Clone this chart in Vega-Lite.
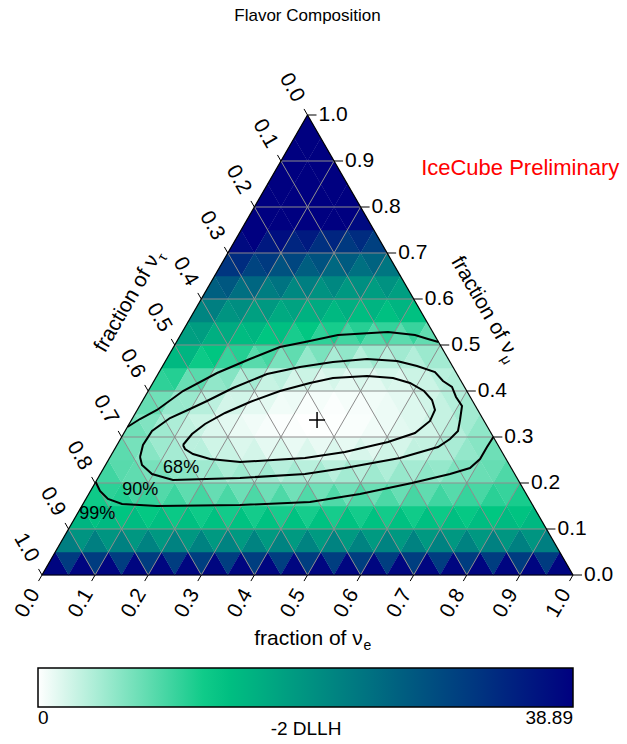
{
"$schema": "https://vega.github.io/schema/vega-lite/v6.json",
"width": 531, "height": 460,
"autosize": {"type": "none"},
"padding": {"left": 42, "top": 115, "right": 54, "bottom": 169},
"background": "white",
"config": {"view": {"stroke": null}, "font": "Liberation Sans"},
"datasets": {
"cells": [
{"x":0.025,"y":0.025,"s":"u","v":38.3},{"x":0.05,"y":0.025,"s":"d","v":31.1},{"x":0.075,"y":0.025,"s":"u","v":38.3},{"x":0.1,"y":0.025,"s":"d","v":31.0},{"x":0.125,"y":0.025,"s":"u","v":38.2},{"x":0.15,"y":0.025,"s":"d","v":30.9},{"x":0.175,"y":0.025,"s":"u","v":38.2},{"x":0.2,"y":0.025,"s":"d","v":30.9},{"x":0.225,"y":0.025,"s":"u","v":38.1},{"x":0.25,"y":0.025,"s":"d","v":30.9},{"x":0.275,"y":0.025,"s":"u","v":38.1},{"x":0.3,"y":0.025,"s":"d","v":30.8},{"x":0.325,"y":0.025,"s":"u","v":38.1},{"x":0.35,"y":0.025,"s":"d","v":30.8},{"x":0.375,"y":0.025,"s":"u","v":38.1},{"x":0.4,"y":0.025,"s":"d","v":30.8},{"x":0.425,"y":0.025,"s":"u","v":38.1},{"x":0.45,"y":0.025,"s":"d","v":30.8},{"x":0.475,"y":0.025,"s":"u","v":38.1},{"x":0.5,"y":0.025,"s":"d","v":30.8},{"x":0.525,"y":0.025,"s":"u","v":38.1},{"x":0.55,"y":0.025,"s":"d","v":30.8},{"x":0.575,"y":0.025,"s":"u","v":38.1},{"x":0.6,"y":0.025,"s":"d","v":30.8},{"x":0.625,"y":0.025,"s":"u","v":38.1},{"x":0.65,"y":0.025,"s":"d","v":30.8},{"x":0.675,"y":0.025,"s":"u","v":38.1},{"x":0.7,"y":0.025,"s":"d","v":30.8},{"x":0.725,"y":0.025,"s":"u","v":38.1},{"x":0.75,"y":0.025,"s":"d","v":30.9},{"x":0.775,"y":0.025,"s":"u","v":38.1},{"x":0.8,"y":0.025,"s":"d","v":30.9},{"x":0.825,"y":0.025,"s":"u","v":38.2},{"x":0.85,"y":0.025,"s":"d","v":30.9},{"x":0.875,"y":0.025,"s":"u","v":38.2},{"x":0.9,"y":0.025,"s":"d","v":31.0},{"x":0.925,"y":0.025,"s":"u","v":38.2},{"x":0.95,"y":0.025,"s":"d","v":31.1},{"x":0.975,"y":0.025,"s":"u","v":38.3},
{"x":0.05,"y":0.075,"s":"u","v":22.4},{"x":0.075,"y":0.075,"s":"d","v":19.5},{"x":0.1,"y":0.075,"s":"u","v":22.2},{"x":0.125,"y":0.075,"s":"d","v":19.3},{"x":0.15,"y":0.075,"s":"u","v":22.0},{"x":0.175,"y":0.075,"s":"d","v":19.1},{"x":0.2,"y":0.075,"s":"u","v":21.9},{"x":0.225,"y":0.075,"s":"d","v":19.0},{"x":0.25,"y":0.075,"s":"u","v":21.8},{"x":0.275,"y":0.075,"s":"d","v":18.9},{"x":0.3,"y":0.075,"s":"u","v":21.8},{"x":0.325,"y":0.075,"s":"d","v":18.8},{"x":0.35,"y":0.075,"s":"u","v":21.7},{"x":0.375,"y":0.075,"s":"d","v":18.7},{"x":0.4,"y":0.075,"s":"u","v":21.7},{"x":0.425,"y":0.075,"s":"d","v":18.7},{"x":0.45,"y":0.075,"s":"u","v":21.7},{"x":0.475,"y":0.075,"s":"d","v":18.7},{"x":0.5,"y":0.075,"s":"u","v":21.7},{"x":0.525,"y":0.075,"s":"d","v":18.7},{"x":0.55,"y":0.075,"s":"u","v":21.7},{"x":0.575,"y":0.075,"s":"d","v":18.7},{"x":0.6,"y":0.075,"s":"u","v":21.7},{"x":0.625,"y":0.075,"s":"d","v":18.7},{"x":0.65,"y":0.075,"s":"u","v":21.7},{"x":0.675,"y":0.075,"s":"d","v":18.8},{"x":0.7,"y":0.075,"s":"u","v":21.8},{"x":0.725,"y":0.075,"s":"d","v":18.8},{"x":0.75,"y":0.075,"s":"u","v":21.8},{"x":0.775,"y":0.075,"s":"d","v":18.9},{"x":0.8,"y":0.075,"s":"u","v":21.9},{"x":0.825,"y":0.075,"s":"d","v":19.0},{"x":0.85,"y":0.075,"s":"u","v":22.0},{"x":0.875,"y":0.075,"s":"d","v":19.2},{"x":0.9,"y":0.075,"s":"u","v":22.1},{"x":0.925,"y":0.075,"s":"d","v":19.4},{"x":0.95,"y":0.075,"s":"u","v":22.3},
{"x":0.075,"y":0.125,"s":"u","v":15.1},{"x":0.1,"y":0.125,"s":"d","v":13.6},{"x":0.125,"y":0.125,"s":"u","v":14.6},{"x":0.15,"y":0.125,"s":"d","v":13.0},{"x":0.175,"y":0.125,"s":"u","v":14.2},{"x":0.2,"y":0.125,"s":"d","v":12.6},{"x":0.225,"y":0.125,"s":"u","v":13.9},{"x":0.25,"y":0.125,"s":"d","v":12.3},{"x":0.275,"y":0.125,"s":"u","v":13.7},{"x":0.3,"y":0.125,"s":"d","v":12.1},{"x":0.325,"y":0.125,"s":"u","v":13.6},{"x":0.35,"y":0.125,"s":"d","v":11.9},{"x":0.375,"y":0.125,"s":"u","v":13.5},{"x":0.4,"y":0.125,"s":"d","v":11.8},{"x":0.425,"y":0.125,"s":"u","v":13.4},{"x":0.45,"y":0.125,"s":"d","v":11.7},{"x":0.475,"y":0.125,"s":"u","v":13.4},{"x":0.5,"y":0.125,"s":"d","v":11.7},{"x":0.525,"y":0.125,"s":"u","v":13.4},{"x":0.55,"y":0.125,"s":"d","v":11.7},{"x":0.575,"y":0.125,"s":"u","v":13.4},{"x":0.6,"y":0.125,"s":"d","v":11.8},{"x":0.625,"y":0.125,"s":"u","v":13.5},{"x":0.65,"y":0.125,"s":"d","v":11.9},{"x":0.675,"y":0.125,"s":"u","v":13.6},{"x":0.7,"y":0.125,"s":"d","v":12.0},{"x":0.725,"y":0.125,"s":"u","v":13.7},{"x":0.75,"y":0.125,"s":"d","v":12.2},{"x":0.775,"y":0.125,"s":"u","v":13.9},{"x":0.8,"y":0.125,"s":"d","v":12.5},{"x":0.825,"y":0.125,"s":"u","v":14.1},{"x":0.85,"y":0.125,"s":"d","v":12.8},{"x":0.875,"y":0.125,"s":"u","v":14.4},{"x":0.9,"y":0.125,"s":"d","v":13.3},{"x":0.925,"y":0.125,"s":"u","v":14.8},
{"x":0.1,"y":0.175,"s":"u","v":12.1},{"x":0.125,"y":0.175,"s":"d","v":10.6},{"x":0.15,"y":0.175,"s":"u","v":11.1},{"x":0.175,"y":0.175,"s":"d","v":9.5},{"x":0.2,"y":0.175,"s":"u","v":10.3},{"x":0.225,"y":0.175,"s":"d","v":8.7},{"x":0.25,"y":0.175,"s":"u","v":9.8},{"x":0.275,"y":0.175,"s":"d","v":8.1},{"x":0.3,"y":0.175,"s":"u","v":9.4},{"x":0.325,"y":0.175,"s":"d","v":7.7},{"x":0.35,"y":0.175,"s":"u","v":9.1},{"x":0.375,"y":0.175,"s":"d","v":7.4},{"x":0.4,"y":0.175,"s":"u","v":9.0},{"x":0.425,"y":0.175,"s":"d","v":7.3},{"x":0.45,"y":0.175,"s":"u","v":8.9},{"x":0.475,"y":0.175,"s":"d","v":7.2},{"x":0.5,"y":0.175,"s":"u","v":8.8},{"x":0.525,"y":0.175,"s":"d","v":7.2},{"x":0.55,"y":0.175,"s":"u","v":8.8},{"x":0.575,"y":0.175,"s":"d","v":7.2},{"x":0.6,"y":0.175,"s":"u","v":8.9},{"x":0.625,"y":0.175,"s":"d","v":7.4},{"x":0.65,"y":0.175,"s":"u","v":9.0},{"x":0.675,"y":0.175,"s":"d","v":7.6},{"x":0.7,"y":0.175,"s":"u","v":9.3},{"x":0.725,"y":0.175,"s":"d","v":8.0},{"x":0.75,"y":0.175,"s":"u","v":9.6},{"x":0.775,"y":0.175,"s":"d","v":8.5},{"x":0.8,"y":0.175,"s":"u","v":10.1},{"x":0.825,"y":0.175,"s":"d","v":9.2},{"x":0.85,"y":0.175,"s":"u","v":10.7},{"x":0.875,"y":0.175,"s":"d","v":10.1},{"x":0.9,"y":0.175,"s":"u","v":11.6},
{"x":0.125,"y":0.225,"s":"u","v":9.6},{"x":0.15,"y":0.225,"s":"d","v":8.4},{"x":0.175,"y":0.225,"s":"u","v":8.0},{"x":0.2,"y":0.225,"s":"d","v":6.8},{"x":0.225,"y":0.225,"s":"u","v":6.8},{"x":0.25,"y":0.225,"s":"d","v":5.6},{"x":0.275,"y":0.225,"s":"u","v":5.9},{"x":0.3,"y":0.225,"s":"d","v":4.8},{"x":0.325,"y":0.225,"s":"u","v":5.3},{"x":0.35,"y":0.225,"s":"d","v":4.2},{"x":0.375,"y":0.225,"s":"u","v":4.9},{"x":0.4,"y":0.225,"s":"d","v":3.8},{"x":0.425,"y":0.225,"s":"u","v":4.7},{"x":0.45,"y":0.225,"s":"d","v":3.6},{"x":0.475,"y":0.225,"s":"u","v":4.5},{"x":0.5,"y":0.225,"s":"d","v":3.5},{"x":0.525,"y":0.225,"s":"u","v":4.5},{"x":0.55,"y":0.225,"s":"d","v":3.5},{"x":0.575,"y":0.225,"s":"u","v":4.6},{"x":0.6,"y":0.225,"s":"d","v":3.7},{"x":0.625,"y":0.225,"s":"u","v":4.8},{"x":0.65,"y":0.225,"s":"d","v":4.0},{"x":0.675,"y":0.225,"s":"u","v":5.2},{"x":0.7,"y":0.225,"s":"d","v":4.5},{"x":0.725,"y":0.225,"s":"u","v":5.7},{"x":0.75,"y":0.225,"s":"d","v":5.3},{"x":0.775,"y":0.225,"s":"u","v":6.5},{"x":0.8,"y":0.225,"s":"d","v":6.3},{"x":0.825,"y":0.225,"s":"u","v":7.5},{"x":0.85,"y":0.225,"s":"d","v":7.7},{"x":0.875,"y":0.225,"s":"u","v":8.9},
{"x":0.15,"y":0.275,"s":"u","v":8.2},{"x":0.175,"y":0.275,"s":"d","v":6.9},{"x":0.2,"y":0.275,"s":"u","v":6.0},{"x":0.225,"y":0.275,"s":"d","v":4.9},{"x":0.25,"y":0.275,"s":"u","v":4.5},{"x":0.275,"y":0.275,"s":"d","v":3.4},{"x":0.3,"y":0.275,"s":"u","v":3.5},{"x":0.325,"y":0.275,"s":"d","v":2.4},{"x":0.35,"y":0.275,"s":"u","v":2.7},{"x":0.375,"y":0.275,"s":"d","v":1.8},{"x":0.4,"y":0.275,"s":"u","v":2.2},{"x":0.425,"y":0.275,"s":"d","v":1.3},{"x":0.45,"y":0.275,"s":"u","v":1.9},{"x":0.475,"y":0.275,"s":"d","v":1.1},{"x":0.5,"y":0.275,"s":"u","v":1.8},{"x":0.525,"y":0.275,"s":"d","v":1.1},{"x":0.55,"y":0.275,"s":"u","v":1.8},{"x":0.575,"y":0.275,"s":"d","v":1.2},{"x":0.6,"y":0.275,"s":"u","v":2.0},{"x":0.625,"y":0.275,"s":"d","v":1.5},{"x":0.65,"y":0.275,"s":"u","v":2.4},{"x":0.675,"y":0.275,"s":"d","v":2.1},{"x":0.7,"y":0.275,"s":"u","v":3.1},{"x":0.725,"y":0.275,"s":"d","v":3.0},{"x":0.75,"y":0.275,"s":"u","v":4.1},{"x":0.775,"y":0.275,"s":"d","v":4.3},{"x":0.8,"y":0.275,"s":"u","v":5.4},{"x":0.825,"y":0.275,"s":"d","v":6.0},{"x":0.85,"y":0.275,"s":"u","v":7.3},
{"x":0.175,"y":0.325,"s":"u","v":7.2},{"x":0.2,"y":0.325,"s":"d","v":6.3},{"x":0.225,"y":0.325,"s":"u","v":4.8},{"x":0.25,"y":0.325,"s":"d","v":4.1},{"x":0.275,"y":0.325,"s":"u","v":3.1},{"x":0.3,"y":0.325,"s":"d","v":2.6},{"x":0.325,"y":0.325,"s":"u","v":1.8},{"x":0.35,"y":0.325,"s":"d","v":1.4},{"x":0.375,"y":0.325,"s":"u","v":1.0},{"x":0.4,"y":0.325,"s":"d","v":0.7},{"x":0.425,"y":0.325,"s":"u","v":0.4},{"x":0.45,"y":0.325,"s":"d","v":0.2},{"x":0.475,"y":0.325,"s":"u","v":0.2},{"x":0.5,"y":0.325,"s":"d","v":0.0},{"x":0.525,"y":0.325,"s":"u","v":0.1},{"x":0.55,"y":0.325,"s":"d","v":0.1},{"x":0.575,"y":0.325,"s":"u","v":0.3},{"x":0.6,"y":0.325,"s":"d","v":0.3},{"x":0.625,"y":0.325,"s":"u","v":0.7},{"x":0.65,"y":0.325,"s":"d","v":0.9},{"x":0.675,"y":0.325,"s":"u","v":1.4},{"x":0.7,"y":0.325,"s":"d","v":1.7},{"x":0.725,"y":0.325,"s":"u","v":2.3},{"x":0.75,"y":0.325,"s":"d","v":2.9},{"x":0.775,"y":0.325,"s":"u","v":3.7},{"x":0.8,"y":0.325,"s":"d","v":4.6},{"x":0.825,"y":0.325,"s":"u","v":5.6},
{"x":0.2,"y":0.375,"s":"u","v":7.7},{"x":0.225,"y":0.375,"s":"d","v":7.2},{"x":0.25,"y":0.375,"s":"u","v":5.2},{"x":0.275,"y":0.375,"s":"d","v":5.1},{"x":0.3,"y":0.375,"s":"u","v":3.6},{"x":0.325,"y":0.375,"s":"d","v":3.4},{"x":0.35,"y":0.375,"s":"u","v":2.2},{"x":0.375,"y":0.375,"s":"d","v":2.3},{"x":0.4,"y":0.375,"s":"u","v":1.3},{"x":0.425,"y":0.375,"s":"d","v":1.4},{"x":0.45,"y":0.375,"s":"u","v":0.7},{"x":0.475,"y":0.375,"s":"d","v":0.9},{"x":0.5,"y":0.375,"s":"u","v":0.3},{"x":0.525,"y":0.375,"s":"d","v":0.5},{"x":0.55,"y":0.375,"s":"u","v":0.2},{"x":0.575,"y":0.375,"s":"d","v":0.5},{"x":0.6,"y":0.375,"s":"u","v":0.4},{"x":0.625,"y":0.375,"s":"d","v":0.7},{"x":0.65,"y":0.375,"s":"u","v":0.9},{"x":0.675,"y":0.375,"s":"d","v":1.3},{"x":0.7,"y":0.375,"s":"u","v":1.7},{"x":0.725,"y":0.375,"s":"d","v":2.3},{"x":0.75,"y":0.375,"s":"u","v":2.9},{"x":0.775,"y":0.375,"s":"d","v":3.7},{"x":0.8,"y":0.375,"s":"u","v":4.6},
{"x":0.225,"y":0.425,"s":"u","v":10.5},{"x":0.25,"y":0.425,"s":"d","v":11.0},{"x":0.275,"y":0.425,"s":"u","v":7.6},{"x":0.3,"y":0.425,"s":"d","v":8.4},{"x":0.325,"y":0.425,"s":"u","v":5.5},{"x":0.35,"y":0.425,"s":"d","v":6.1},{"x":0.375,"y":0.425,"s":"u","v":3.9},{"x":0.4,"y":0.425,"s":"d","v":4.6},{"x":0.425,"y":0.425,"s":"u","v":2.8},{"x":0.45,"y":0.425,"s":"d","v":3.3},{"x":0.475,"y":0.425,"s":"u","v":2.1},{"x":0.5,"y":0.425,"s":"d","v":2.6},{"x":0.525,"y":0.425,"s":"u","v":1.6},{"x":0.55,"y":0.425,"s":"d","v":2.1},{"x":0.575,"y":0.425,"s":"u","v":1.4},{"x":0.6,"y":0.425,"s":"d","v":1.9},{"x":0.625,"y":0.425,"s":"u","v":1.4},{"x":0.65,"y":0.425,"s":"d","v":2.1},{"x":0.675,"y":0.425,"s":"u","v":1.8},{"x":0.7,"y":0.425,"s":"d","v":2.6},{"x":0.725,"y":0.425,"s":"u","v":2.6},{"x":0.75,"y":0.425,"s":"d","v":3.5},{"x":0.775,"y":0.425,"s":"u","v":3.9},
{"x":0.25,"y":0.475,"s":"u","v":14.6},{"x":0.275,"y":0.475,"s":"d","v":15.1},{"x":0.3,"y":0.475,"s":"u","v":12.2},{"x":0.325,"y":0.475,"s":"d","v":12.9},{"x":0.35,"y":0.475,"s":"u","v":10.1},{"x":0.375,"y":0.475,"s":"d","v":11.0},{"x":0.4,"y":0.475,"s":"u","v":8.4},{"x":0.425,"y":0.475,"s":"d","v":9.4},{"x":0.45,"y":0.475,"s":"u","v":6.7},{"x":0.475,"y":0.475,"s":"d","v":8.0},{"x":0.5,"y":0.475,"s":"u","v":5.3},{"x":0.525,"y":0.475,"s":"d","v":6.7},{"x":0.55,"y":0.475,"s":"u","v":4.3},{"x":0.575,"y":0.475,"s":"d","v":5.5},{"x":0.6,"y":0.475,"s":"u","v":3.7},{"x":0.625,"y":0.475,"s":"d","v":4.9},{"x":0.65,"y":0.475,"s":"u","v":3.5},{"x":0.675,"y":0.475,"s":"d","v":4.7},{"x":0.7,"y":0.475,"s":"u","v":3.8},{"x":0.725,"y":0.475,"s":"d","v":5.0},{"x":0.75,"y":0.475,"s":"u","v":4.6},
{"x":0.275,"y":0.525,"s":"u","v":18.0},{"x":0.3,"y":0.525,"s":"d","v":18.3},{"x":0.325,"y":0.525,"s":"u","v":16.0},{"x":0.35,"y":0.525,"s":"d","v":16.5},{"x":0.375,"y":0.525,"s":"u","v":14.3},{"x":0.4,"y":0.525,"s":"d","v":15.0},{"x":0.425,"y":0.525,"s":"u","v":12.9},{"x":0.45,"y":0.525,"s":"d","v":13.8},{"x":0.475,"y":0.525,"s":"u","v":11.6},{"x":0.5,"y":0.525,"s":"d","v":12.7},{"x":0.525,"y":0.525,"s":"u","v":10.5},{"x":0.55,"y":0.525,"s":"d","v":11.7},{"x":0.575,"y":0.525,"s":"u","v":9.5},{"x":0.6,"y":0.525,"s":"d","v":10.9},{"x":0.625,"y":0.525,"s":"u","v":8.8},{"x":0.65,"y":0.525,"s":"d","v":10.3},{"x":0.675,"y":0.525,"s":"u","v":8.2},{"x":0.7,"y":0.525,"s":"d","v":10.0},{"x":0.725,"y":0.525,"s":"u","v":7.9},
{"x":0.3,"y":0.575,"s":"u","v":21.5},{"x":0.325,"y":0.575,"s":"d","v":22.2},{"x":0.35,"y":0.575,"s":"u","v":19.5},{"x":0.375,"y":0.575,"s":"d","v":20.3},{"x":0.4,"y":0.575,"s":"u","v":17.9},{"x":0.425,"y":0.575,"s":"d","v":18.8},{"x":0.45,"y":0.575,"s":"u","v":16.6},{"x":0.475,"y":0.575,"s":"d","v":17.5},{"x":0.5,"y":0.575,"s":"u","v":15.5},{"x":0.525,"y":0.575,"s":"d","v":16.5},{"x":0.55,"y":0.575,"s":"u","v":14.7},{"x":0.575,"y":0.575,"s":"d","v":15.8},{"x":0.6,"y":0.575,"s":"u","v":14.1},{"x":0.625,"y":0.575,"s":"d","v":15.3},{"x":0.65,"y":0.575,"s":"u","v":13.7},{"x":0.675,"y":0.575,"s":"d","v":15.1},{"x":0.7,"y":0.575,"s":"u","v":13.6},
{"x":0.325,"y":0.625,"s":"u","v":26.4},{"x":0.35,"y":0.625,"s":"d","v":27.5},{"x":0.375,"y":0.625,"s":"u","v":24.3},{"x":0.4,"y":0.625,"s":"d","v":25.5},{"x":0.425,"y":0.625,"s":"u","v":22.5},{"x":0.45,"y":0.625,"s":"d","v":23.8},{"x":0.475,"y":0.625,"s":"u","v":21.0},{"x":0.5,"y":0.625,"s":"d","v":22.3},{"x":0.525,"y":0.625,"s":"u","v":19.8},{"x":0.55,"y":0.625,"s":"d","v":21.1},{"x":0.575,"y":0.625,"s":"u","v":18.9},{"x":0.6,"y":0.625,"s":"d","v":20.2},{"x":0.625,"y":0.625,"s":"u","v":18.3},{"x":0.65,"y":0.625,"s":"d","v":19.7},{"x":0.675,"y":0.625,"s":"u","v":18.0},
{"x":0.35,"y":0.675,"s":"u","v":32.0},{"x":0.375,"y":0.675,"s":"d","v":33.1},{"x":0.4,"y":0.675,"s":"u","v":30.0},{"x":0.425,"y":0.675,"s":"d","v":31.3},{"x":0.45,"y":0.675,"s":"u","v":28.2},{"x":0.475,"y":0.675,"s":"d","v":29.7},{"x":0.5,"y":0.675,"s":"u","v":26.6},{"x":0.525,"y":0.675,"s":"d","v":28.2},{"x":0.55,"y":0.675,"s":"u","v":25.3},{"x":0.575,"y":0.675,"s":"d","v":26.9},{"x":0.6,"y":0.675,"s":"u","v":24.2},{"x":0.625,"y":0.675,"s":"d","v":25.9},{"x":0.65,"y":0.675,"s":"u","v":23.4},
{"x":0.375,"y":0.725,"s":"u","v":37.6},{"x":0.4,"y":0.725,"s":"d","v":38.89},{"x":0.425,"y":0.725,"s":"u","v":35.7},{"x":0.45,"y":0.725,"s":"d","v":37.1},{"x":0.475,"y":0.725,"s":"u","v":34.0},{"x":0.5,"y":0.725,"s":"d","v":35.5},{"x":0.525,"y":0.725,"s":"u","v":32.6},{"x":0.55,"y":0.725,"s":"d","v":34.1},{"x":0.575,"y":0.725,"s":"u","v":31.4},{"x":0.6,"y":0.725,"s":"d","v":33.1},{"x":0.625,"y":0.725,"s":"u","v":30.5},
{"x":0.4,"y":0.775,"s":"u","v":38.89},{"x":0.425,"y":0.775,"s":"d","v":38.89},{"x":0.45,"y":0.775,"s":"u","v":38.89},{"x":0.475,"y":0.775,"s":"d","v":38.89},{"x":0.5,"y":0.775,"s":"u","v":38.89},{"x":0.525,"y":0.775,"s":"d","v":38.89},{"x":0.55,"y":0.775,"s":"u","v":38.89},{"x":0.575,"y":0.775,"s":"d","v":38.89},{"x":0.6,"y":0.775,"s":"u","v":37.6},
{"x":0.425,"y":0.825,"s":"u","v":38.89},{"x":0.45,"y":0.825,"s":"d","v":38.89},{"x":0.475,"y":0.825,"s":"u","v":38.89},{"x":0.5,"y":0.825,"s":"d","v":38.89},{"x":0.525,"y":0.825,"s":"u","v":38.89},{"x":0.55,"y":0.825,"s":"d","v":38.89},{"x":0.575,"y":0.825,"s":"u","v":38.89},
{"x":0.45,"y":0.875,"s":"u","v":38.89},{"x":0.475,"y":0.875,"s":"d","v":38.89},{"x":0.5,"y":0.875,"s":"u","v":38.89},{"x":0.525,"y":0.875,"s":"d","v":38.89},{"x":0.55,"y":0.875,"s":"u","v":38.89},
{"x":0.475,"y":0.925,"s":"u","v":38.89},{"x":0.5,"y":0.925,"s":"d","v":38.89},{"x":0.525,"y":0.925,"s":"u","v":38.89},
{"x":0.5,"y":0.975,"s":"u","v":38.89}
],
"grid": [
{"x":0.05,"y":0.1,"x2":0.95,"y2":0.1},{"x":0.1,"y":0.2,"x2":0.9,"y2":0.2},{"x":0.15,"y":0.3,"x2":0.85,"y2":0.3},{"x":0.2,"y":0.4,"x2":0.8,"y2":0.4},{"x":0.25,"y":0.5,"x2":0.75,"y2":0.5},{"x":0.3,"y":0.6,"x2":0.7,"y2":0.6},{"x":0.35,"y":0.7,"x2":0.65,"y2":0.7},{"x":0.4,"y":0.8,"x2":0.6,"y2":0.8},{"x":0.45,"y":0.9,"x2":0.55,"y2":0.9},
{"x":0.1,"y":0,"x2":0.55,"y2":0.9},{"x":0.2,"y":0,"x2":0.6,"y2":0.8},{"x":0.3,"y":0,"x2":0.65,"y2":0.7},{"x":0.4,"y":0,"x2":0.7,"y2":0.6},{"x":0.5,"y":0,"x2":0.75,"y2":0.5},{"x":0.6,"y":0,"x2":0.8,"y2":0.4},{"x":0.7,"y":0,"x2":0.85,"y2":0.3},{"x":0.8,"y":0,"x2":0.9,"y2":0.2},{"x":0.9,"y":0,"x2":0.95,"y2":0.1},
{"x":0.9,"y":0,"x2":0.45,"y2":0.9},{"x":0.8,"y":0,"x2":0.4,"y2":0.8},{"x":0.7,"y":0,"x2":0.35,"y2":0.7},{"x":0.6,"y":0,"x2":0.3,"y2":0.6},{"x":0.5,"y":0,"x2":0.25,"y2":0.5},{"x":0.4,"y":0,"x2":0.2,"y2":0.4},{"x":0.3,"y":0,"x2":0.15,"y2":0.3},{"x":0.2,"y":0,"x2":0.1,"y2":0.2},{"x":0.1,"y":0,"x2":0.05,"y2":0.1}
],
"edges": [
{"x":0,"y":0,"x2":1,"y2":0},{"x":0,"y":0,"x2":0.5,"y2":1},{"x":1,"y":0,"x2":0.5,"y2":1}
],
"bottom": [
{"x":0,"y":0,"t":"0.0"},{"x":0.1,"y":0,"t":"0.1"},{"x":0.2,"y":0,"t":"0.2"},{"x":0.3,"y":0,"t":"0.3"},{"x":0.4,"y":0,"t":"0.4"},{"x":0.5,"y":0,"t":"0.5"},{"x":0.6,"y":0,"t":"0.6"},{"x":0.7,"y":0,"t":"0.7"},{"x":0.8,"y":0,"t":"0.8"},{"x":0.9,"y":0,"t":"0.9"},{"x":1,"y":0,"t":"1.0"}
],
"right": [
{"x":1,"y":0,"t":"0.0"},{"x":0.95,"y":0.1,"t":"0.1"},{"x":0.9,"y":0.2,"t":"0.2"},{"x":0.85,"y":0.3,"t":"0.3"},{"x":0.8,"y":0.4,"t":"0.4"},{"x":0.75,"y":0.5,"t":"0.5"},{"x":0.7,"y":0.6,"t":"0.6"},{"x":0.65,"y":0.7,"t":"0.7"},{"x":0.6,"y":0.8,"t":"0.8"},{"x":0.55,"y":0.9,"t":"0.9"},{"x":0.5,"y":1,"t":"1.0"}
],
"left": [
{"x":0.5,"y":1,"t":"0.0"},{"x":0.45,"y":0.9,"t":"0.1"},{"x":0.4,"y":0.8,"t":"0.2"},{"x":0.35,"y":0.7,"t":"0.3"},{"x":0.3,"y":0.6,"t":"0.4"},{"x":0.25,"y":0.5,"t":"0.5"},{"x":0.2,"y":0.4,"t":"0.6"},{"x":0.15,"y":0.3,"t":"0.7"},{"x":0.1,"y":0.2,"t":"0.8"},{"x":0.05,"y":0.1,"t":"0.9"},{"x":0,"y":0,"t":"1.0"}
],
"contours": [
{"c":"68","i":1,"x":0.2655,"y":0.2826},{"c":"68","i":2,"x":0.2825,"y":0.3065},{"c":"68","i":3,"x":0.307,"y":0.3283},{"c":"68","i":4,"x":0.3446,"y":0.3522},{"c":"68","i":5,"x":0.3917,"y":0.3761},{"c":"68","i":6,"x":0.4482,"y":0.4},{"c":"68","i":7,"x":0.5047,"y":0.4174},{"c":"68","i":8,"x":0.548,"y":0.4283},{"c":"68","i":9,"x":0.6121,"y":0.4326},{"c":"68","i":10,"x":0.661,"y":0.4283},{"c":"68","i":11,"x":0.693,"y":0.4174},{"c":"68","i":12,"x":0.7194,"y":0.4},{"c":"68","i":13,"x":0.7345,"y":0.3804},{"c":"68","i":14,"x":0.7401,"y":0.3587},{"c":"68","i":15,"x":0.7307,"y":0.3348},{"c":"68","i":16,"x":0.7024,"y":0.3087},{"c":"68","i":17,"x":0.6516,"y":0.2891},{"c":"68","i":18,"x":0.5706,"y":0.2674},{"c":"68","i":19,"x":0.4953,"y":0.2543},{"c":"68","i":20,"x":0.435,"y":0.25},{"c":"68","i":21,"x":0.3729,"y":0.2457},{"c":"68","i":22,"x":0.3164,"y":0.2522},{"c":"68","i":23,"x":0.2844,"y":0.263},{"c":"68","i":24,"x":0.2693,"y":0.2739},{"c":"68","i":25,"x":0.2655,"y":0.2826},
{"c":"90","i":1,"x":0.1846,"y":0.2565},{"c":"90","i":2,"x":0.1902,"y":0.2826},{"c":"90","i":3,"x":0.2072,"y":0.313},{"c":"90","i":4,"x":0.2411,"y":0.3413},{"c":"90","i":5,"x":0.2787,"y":0.3609},{"c":"90","i":6,"x":0.3107,"y":0.3783},{"c":"90","i":7,"x":0.3597,"y":0.4065},{"c":"90","i":8,"x":0.4237,"y":0.437},{"c":"90","i":9,"x":0.4859,"y":0.4522},{"c":"90","i":10,"x":0.548,"y":0.463},{"c":"90","i":11,"x":0.6121,"y":0.4696},{"c":"90","i":12,"x":0.6685,"y":0.4652},{"c":"90","i":13,"x":0.7062,"y":0.4543},{"c":"90","i":14,"x":0.7401,"y":0.4413},{"c":"90","i":15,"x":0.7552,"y":0.4217},{"c":"90","i":16,"x":0.7721,"y":0.4087},{"c":"90","i":17,"x":0.7797,"y":0.387},{"c":"90","i":18,"x":0.791,"y":0.3674},{"c":"90","i":19,"x":0.7872,"y":0.337},{"c":"90","i":20,"x":0.7834,"y":0.313},{"c":"90","i":21,"x":0.7684,"y":0.2957},{"c":"90","i":22,"x":0.7458,"y":0.2783},{"c":"90","i":23,"x":0.6742,"y":0.2543},{"c":"90","i":24,"x":0.5706,"y":0.2326},{"c":"90","i":25,"x":0.4953,"y":0.2196},{"c":"90","i":26,"x":0.3729,"y":0.2109},{"c":"90","i":27,"x":0.2467,"y":0.2065},{"c":"90","i":28,"x":0.2072,"y":0.2196},{"c":"90","i":29,"x":0.1883,"y":0.2391},{"c":"90","i":30,"x":0.1846,"y":0.2565},
{"c":"99u","i":1,"x":0.1608,"y":0.3217},{"c":"99u","i":2,"x":0.1846,"y":0.3391},{"c":"99u","i":3,"x":0.2166,"y":0.3587},{"c":"99u","i":4,"x":0.2655,"y":0.4},{"c":"99u","i":5,"x":0.3296,"y":0.4391},{"c":"99u","i":6,"x":0.3917,"y":0.4696},{"c":"99u","i":7,"x":0.4482,"y":0.4957},{"c":"99u","i":8,"x":0.4953,"y":0.5065},{"c":"99u","i":9,"x":0.5574,"y":0.5217},{"c":"99u","i":10,"x":0.6516,"y":0.5283},{"c":"99u","i":11,"x":0.7024,"y":0.5217},{"c":"99u","i":12,"x":0.7269,"y":0.513},{"c":"99u","i":13,"x":0.7467,"y":0.5065},
{"c":"99l","i":1,"x":0.1011,"y":0.2022},{"c":"99l","i":2,"x":0.1092,"y":0.1826},{"c":"99l","i":3,"x":0.1243,"y":0.1652},{"c":"99l","i":4,"x":0.1507,"y":0.1543},{"c":"99l","i":5,"x":0.2166,"y":0.15},{"c":"99l","i":6,"x":0.3729,"y":0.1522},{"c":"99l","i":7,"x":0.5047,"y":0.1587},{"c":"99l","i":8,"x":0.5989,"y":0.1761},{"c":"99l","i":9,"x":0.6968,"y":0.2},{"c":"99l","i":10,"x":0.7684,"y":0.2196},{"c":"99l","i":11,"x":0.806,"y":0.2326},{"c":"99l","i":12,"x":0.8249,"y":0.2522},{"c":"99l","i":13,"x":0.838,"y":0.2783},{"c":"99l","i":14,"x":0.85,"y":0.3}
],
"clabels": [
{"x":0.262,"y":0.233,"t":"68%"},{"x":0.185,"y":0.185,"t":"90%"},{"x":0.104,"y":0.133,"t":"99%"}
]
},
"encoding": {
"x": {"field": "x", "type": "quantitative", "scale": {"domain": [0, 1]}, "axis": null},
"y": {"field": "y", "type": "quantitative", "scale": {"domain": [0, 1]}, "axis": null}
},
"layer": [
{"data": {"name": "cells"},
 "mark": {"type": "point", "filled": true, "opacity": 1, "size": 735, "strokeWidth": 0},
 "encoding": {
  "shape": {"field": "s", "type": "nominal", "scale": {"domain": ["u", "d"], "range": ["triangle-up", "triangle-down"]}, "legend": null},
  "color": {"field": "v", "type": "quantitative",
    "scale": {"domain": [0, 12.8, 38.89], "range": ["#ffffff", "#00c781", "#000080"], "interpolate": "rgb"},
    "legend": {"type": "gradient", "title": "-2 DLLH", "orient": "none", "legendX": -4, "legendY": 553, "direction": "horizontal",
      "gradientLength": 535, "gradientThickness": 39, "gradientStrokeColor": "black", "gradientStrokeWidth": 1.5,
      "values": [0, 38.89], "format": ".4~g", "labelFontSize": 19, "labelFont": "Liberation Sans", "labelColor": "black", "labelOffset": 2, "labelOverlap": false,
      "titleOrient": "bottom", "titleAnchor": "middle", "titleFontSize": 19, "titleFont": "Liberation Sans", "titleFontWeight": "normal", "titleColor": "black", "titlePadding": -8, "padding": 0}}
 }},
{"data": {"name": "grid"},
 "mark": {"type": "rule", "color": "#8c8c8c", "strokeWidth": 1},
 "encoding": {"x2": {"field": "x2"}, "y2": {"field": "y2"}}},
{"data": {"name": "contours"},
 "mark": {"type": "line", "color": "black", "strokeWidth": 2},
 "encoding": {"detail": {"field": "c", "type": "nominal"}, "order": {"field": "i", "type": "quantitative"}}},
{"data": {"name": "edges"},
 "mark": {"type": "rule", "color": "black", "strokeWidth": 1.2},
 "encoding": {"x2": {"field": "x2"}, "y2": {"field": "y2"}}},
{"data": {"name": "bottom"},
 "mark": {"type": "point", "shape": "M0,0L-0.5,0.866", "size": 196, "filled": false, "stroke": "black", "strokeWidth": 1, "opacity": 1},
 "encoding": {}},
{"data": {"name": "right"},
 "mark": {"type": "point", "shape": "M0,0L1,0", "size": 324, "filled": false, "stroke": "black", "strokeWidth": 1, "opacity": 1},
 "encoding": {}},
{"data": {"name": "left"},
 "mark": {"type": "point", "shape": "M0,0L-0.5,-0.866", "size": 196, "filled": false, "stroke": "black", "strokeWidth": 1, "opacity": 1},
 "encoding": {}},
{"data": {"name": "bottom"},
 "mark": {"type": "text", "angle": 300, "align": "right", "baseline": "middle", "dx": -17, "dy": 2, "fontSize": 21, "font": "Liberation Sans", "color": "black"},
 "encoding": {"text": {"field": "t"}}},
{"data": {"name": "right"},
 "mark": {"type": "text", "align": "left", "baseline": "middle", "dx": 11, "fontSize": 21, "font": "Liberation Sans", "color": "black"},
 "encoding": {"text": {"field": "t"}}},
{"data": {"name": "left"},
 "mark": {"type": "text", "angle": 60, "align": "right", "baseline": "middle", "dx": -17, "fontSize": 21, "font": "Liberation Sans", "color": "black"},
 "encoding": {"text": {"field": "t"}}},
{"data": {"values": [{"x": 0.5, "y": 0, "t": "fraction of ν", "s": "e"}]},
 "mark": {"type": "text", "align": "center", "baseline": "alphabetic", "dx": 1, "dy": 70, "fontSize": 21, "font": "Liberation Sans", "color": "black"},
 "encoding": {"text": {"field": "t"}}},
{"data": {"values": [{"x": 0.5, "y": 0, "t": "fraction of ν", "s": "e"}]},
 "mark": {"type": "text", "align": "left", "baseline": "alphabetic", "dx": 56, "dy": 75, "fontSize": 14, "font": "Liberation Sans", "color": "black"},
 "encoding": {"text": {"field": "s"}}},
{"data": {"values": [{"x": 0.25, "y": 0.5, "t": "fraction of ν", "s": "τ"}]},
 "mark": {"type": "text", "angle": 300, "align": "center", "baseline": "middle", "dx": 12, "dy": -62, "fontSize": 21, "font": "Liberation Sans", "color": "black"},
 "encoding": {"text": {"field": "t"}}},
{"data": {"values": [{"x": 0.25, "y": 0.5, "t": "fraction of ν", "s": "τ"}]},
 "mark": {"type": "text", "angle": 300, "align": "left", "baseline": "middle", "dx": 67, "dy": -54, "fontSize": 14, "font": "Liberation Sans", "color": "black"},
 "encoding": {"text": {"field": "s"}}},
{"data": {"values": [{"x": 0.75, "y": 0.5, "t": "fraction of ν", "s": "μ"}]},
 "mark": {"type": "text", "angle": 60, "align": "center", "baseline": "middle", "dx": -13, "dy": -57, "fontSize": 21, "font": "Liberation Sans", "color": "black"},
 "encoding": {"text": {"field": "t"}}},
{"data": {"values": [{"x": 0.75, "y": 0.5, "t": "fraction of ν", "s": "μ"}]},
 "mark": {"type": "text", "angle": 60, "align": "left", "baseline": "middle", "dx": 42, "dy": -49, "fontSize": 14, "font": "Liberation Sans", "color": "black"},
 "encoding": {"text": {"field": "s"}}},
{"data": {"values": [{"x": 0.518, "y": 0.337}]},
 "mark": {"type": "point", "shape": "M-1,0L1,0M0,-1L0,1", "size": 256, "filled": false, "stroke": "black", "strokeWidth": 1.5, "opacity": 1},
 "encoding": {}},
{"data": {"name": "clabels"},
 "mark": {"type": "text", "align": "center", "baseline": "middle", "fontSize": 18, "font": "Liberation Sans", "color": "black"},
 "encoding": {"text": {"field": "t"}}},
{"data": {"values": [{"x": 0.714, "y": 0.885, "t": "IceCube Preliminary"}]},
 "mark": {"type": "text", "align": "left", "baseline": "middle", "fontSize": 22, "font": "Liberation Sans", "color": "#ff0000"},
 "encoding": {"text": {"field": "t"}}},
{"data": {"values": [{"x": 0.5, "y": 1.215, "t": "Flavor Composition"}]},
 "mark": {"type": "text", "align": "center", "baseline": "middle", "fontSize": 17, "font": "Liberation Sans", "color": "black"},
 "encoding": {"text": {"field": "t"}}}
]
}
